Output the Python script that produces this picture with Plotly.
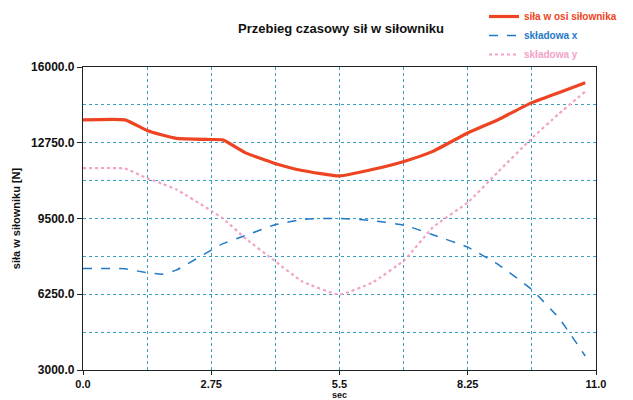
import plotly.graph_objects as go

# time [sec]
t = [0.0, 0.9, 1.375, 1.7, 2.0, 2.75, 3.0, 3.5, 4.1, 4.7, 5.5, 6.2, 6.9, 7.5, 8.25, 8.9, 9.6, 10.2, 10.77]
# force along actuator axis [N]
sila_os = [13734, 13734, 13274, 13080, 12940, 12890, 12875, 12303, 11873, 11560, 11327, 11600, 11960, 12380, 13170, 13740, 14450, 14900, 15320]
# x component [N]
skl_x = [7359, 7340, 7172, 7114, 7286, 8146, 8420, 8780, 9220, 9460, 9507, 9410, 9210, 8800, 8270, 7530, 6490, 5240, 3600]
# y component [N]
skl_y = [11658, 11640, 11228, 10990, 10750, 9830, 9500, 8620, 7700, 6800, 6241, 6750, 7730, 9120, 10190, 11500, 12895, 13990, 14950]

x_ticks = [0.0, 2.75, 5.5, 8.25, 11.0]
x_labels = ["0.0", "2.75", "5.5", "8.25", "11.0"]
y_ticks = [3000, 6250, 9500, 12750, 16000]
y_labels = ["3000.0", "6250.0", "9500.0", "12750.0", "16000.0"]

RED = "#EE4422"
BLUE = "#1F7AC8"
PINK = "#F2A2C8"
GRID = "#3A9EC0"
FONT = "Liberation Sans"

fig = go.Figure()
fig.add_trace(go.Scatter(x=t, y=sila_os, mode="lines",
                         name=f"<span style='color:{RED}'>siła w osi siłownika</span>",
                         line=dict(color=RED, width=3.2, shape="spline", smoothing=0.4)))
fig.add_trace(go.Scatter(x=t, y=skl_x, mode="lines",
                         name=f"<span style='color:{BLUE}'>składowa x</span>",
                         line=dict(color=BLUE, width=1.5, dash="dash", shape="spline", smoothing=0.4)))
fig.add_trace(go.Scatter(x=t, y=skl_y, mode="lines",
                         name=f"<span style='color:{PINK}'>składowa y</span>",
                         line=dict(color=PINK, width=2.2, dash="dot", shape="spline", smoothing=0.4)))

axis_common = dict(
    showline=True, linecolor="#222222", linewidth=1.2, mirror=True,
    ticks="outside", tickcolor="#222222",
    showgrid=False,
    zeroline=False,
)

fig.update_layout(
    width=633, height=400,
    paper_bgcolor="white", plot_bgcolor="white",
    margin=dict(l=83, r=37, t=67, b=30, autoexpand=False),
    title=dict(text="Przebieg czasowy sił w siłowniku", x=341/633, xanchor="center",
               y=1 - 28/400, yanchor="middle",
               font=dict(family=FONT, size=13, color="#111111", weight="bold")),
    showlegend=True,
    legend=dict(xref="container", yref="container", x=484/633, y=1 - 2/400,
                xanchor="left", yanchor="top", bgcolor="rgba(0,0,0,0)",
                font=dict(family=FONT, size=10, weight="bold"),
                itemwidth=30, tracegroupgap=0),
    xaxis=dict(range=[0, 11], tickvals=x_ticks, ticktext=x_labels, ticklen=4,
               tickfont=dict(family=FONT, size=11, color="#111111", weight="bold"),
               minor=dict(dtick=1.375, tick0=0, showgrid=True, gridcolor=GRID, griddash="dot", gridwidth=1, ticks=""),
               **axis_common),
    yaxis=dict(range=[3000, 16000], tickvals=y_ticks, ticktext=y_labels, ticklen=5,
               tickfont=dict(family=FONT, size=12, color="#111111", weight="bold"),
               title=dict(text="siła w siłowniku [N]", font=dict(family=FONT, size=11, color="#111111", weight="bold"), standoff=8),
               minor=dict(dtick=1625, tick0=3000, showgrid=True, gridcolor=GRID, griddash="dot", gridwidth=1, ticks=""),
               **axis_common),
    annotations=[dict(text="sec", xref="paper", yref="paper", x=0.5, y=-25/303,
                      xanchor="center", yanchor="middle", showarrow=False,
                      font=dict(family=FONT, size=9, color="#111111", weight="bold"))],
)

fig.write_html("out.html", config={"displayModeBar": False},
               post_script="document.body.style.margin='0px';")
